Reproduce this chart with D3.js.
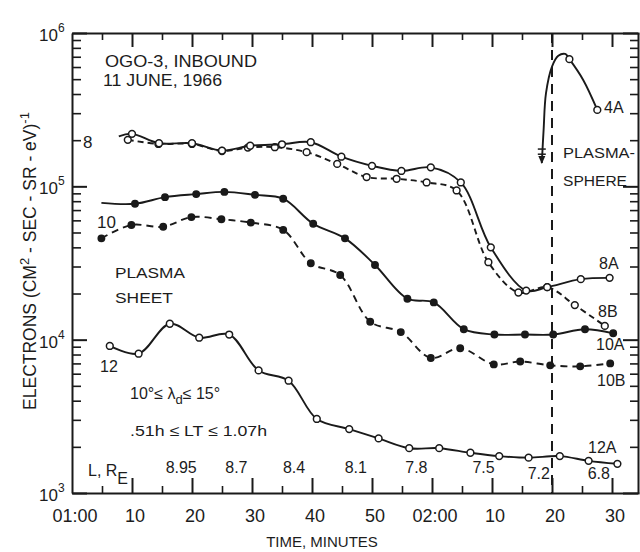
<!DOCTYPE html>
<html><head><meta charset="utf-8">
<script src="https://cdn.jsdelivr.net/npm/d3@7"></script>
<style>
html,body{margin:0;padding:0;background:#fff;}
svg text{font-family:"Liberation Sans",Arial,sans-serif;fill:#1c1c1c;}
</style></head>
<body><svg id="c" width="640" height="552"></svg>
<script>
// ---- data (minutes after 01:00, electrons (cm^2-sec-sr-eV)^-1) ----
const xTickValues = [0,10,20,30,40,50,60,70,80,90];
const xTickLabels = ["01:00","10","20","30","40","50","02:00","10","20","30"];
const yDecades = [1e3,1e4,1e5,1e6];
const yExponents = ["3","4","5","6"];

const minutes8A = [7.8, 10, 14.5, 20, 25, 29.7, 35, 39.8, 44.9, 50, 54.9, 59.8, 64.8, 69.8, 75.7, 79.2, 84.8, 89.6];
const values8A  = [2.12e5, 2.2e5, 1.91e5, 1.91e5, 1.71e5, 1.84e5, 1.88e5, 1.94e5, 1.56e5, 1.36e5, 1.26e5, 1.33e5, 1.06e5, 4.0e4, 2.09e4, 2.2e4, 2.48e4, 2.53e4];
const marks8A   = [0,1,1,1,1,1,1,1,1,1,1,1,1,1,1,1,1,1];

const minutes8B = [9.3, 14.4, 20, 25, 29.3, 33.8, 39.1, 44.2, 49.1, 54.1, 59.1, 64.1, 69.4, 74.4, 79.2, 83.8, 88.8];
const values8B  = [2.01e5, 1.89e5, 1.89e5, 1.70e5, 1.79e5, 1.80e5, 1.67e5, 1.40e5, 1.15e5, 1.12e5, 1.06e5, 9.4e4, 3.2e4, 2.03e4, 2.2e4, 1.68e4, 1.23e4];

const minutes10A = [4.9, 10.5, 15.5, 20.7, 25.4, 30.5, 35.2, 40.2, 45.5, 50.5, 55.9, 60.3, 65.3, 70.4, 75.5, 80.2, 85.5, 90.2];
const values10A  = [7.8e4, 7.7e4, 8.5e4, 8.9e4, 9.2e4, 8.8e4, 8.3e4, 5.7e4, 4.58e4, 3.07e4, 1.85e4, 1.75e4, 1.17e4, 1.08e4, 1.08e4, 1.08e4, 1.17e4, 1.10e4];
const marks10A   = [0,1,1,1,1,1,1,1,1,1,1,1,1,1,1,1,1,1];

const minutes10B = [4.9, 9.9, 15.2, 19.9, 24.9, 29.8, 35.2, 39.8, 44.7, 49.7, 54.8, 59.8, 64.7, 70.3, 74.7, 79.7, 84.7, 89.7];
const values10B  = [4.58e4, 5.6e4, 5.45e4, 6.3e4, 6.1e4, 5.8e4, 5.2e4, 3.15e4, 2.64e4, 1.31e4, 1.12e4, 7.6e3, 8.8e3, 6.9e3, 7.2e3, 6.8e3, 6.7e3, 7.0e3];

const minutes12A = [6.3, 11.1, 16.3, 21.2, 26.2, 31.1, 36.1, 40.8, 46.2, 51.1, 56.2, 61.2, 66.4, 71.2, 76.1, 81.3, 86.1, 90.9];
const values12A  = [9.1e3, 8.1e3, 1.27e4, 1.03e4, 1.08e4, 6.3e3, 5.4e3, 3.04e3, 2.61e3, 2.27e3, 1.96e3, 1.96e3, 1.83e3, 1.74e3, 1.70e3, 1.74e3, 1.62e3, 1.55e3];

const minutes4A = [78.3, 78.6, 79.0, 80.0, 81.05, 82.2, 82.9, 85.2, 87.55];
const values4A  = [1.42e5, 2.33e5, 4.05e5, 6.04e5, 7.1e5, 7.3e5, 6.75e5, 4.94e5, 3.15e5];
const marks4A   = [0,0,0,0,0,0,1,0,1];

const plasmapauseMinute = 80;
const lShellMinutes = [18.2, 27.4, 37, 47.3, 57.4, 68.6, 77.8, 87.8];
const lShellLabels  = ["8.95","8.7","8.4","8.1","7.8","7.5","7.2","6.8"];

// ---- scales ----
const svg = d3.select("#c");
const x = d3.scaleLinear().domain([0, 94.5]).range([72, 639]);
const y = d3.scaleLog().domain([1e3, 1e6]).range([493, 33]);
const ink = "#1a1a1a";

// ---- axes ----
const minorX = d3.range(5, 95, 10);
const minorY = [];
yDecades.slice(0,3).forEach(d => { for (let k=2;k<=9;k++) minorY.push(d*k); });

function styleAxis(g, w){ g.selectAll("path,line").attr("stroke", ink).attr("stroke-width", w); g.selectAll("text").remove(); }

svg.append("g").attr("transform","translate(0,493)")
  .call(d3.axisTop(x).tickValues(xTickValues.slice(1)).tickSizeInner(15).tickSizeOuter(0)).call(g=>styleAxis(g,2));
svg.append("g").attr("transform","translate(0,493)")
  .call(d3.axisTop(x).tickValues(minorX).tickSizeInner(7).tickSizeOuter(0)).call(g=>{styleAxis(g,1.6);g.select(".domain").remove();});
svg.append("g").attr("transform","translate(0,33)")
  .call(d3.axisBottom(x).tickValues(xTickValues.slice(1)).tickSizeInner(14).tickSizeOuter(0)).call(g=>styleAxis(g,2));
svg.append("g").attr("transform","translate(0,33)")
  .call(d3.axisBottom(x).tickValues(minorX).tickSizeInner(7).tickSizeOuter(0)).call(g=>{styleAxis(g,1.6);g.select(".domain").remove();});

svg.append("g").attr("transform","translate(72,0)")
  .call(d3.axisRight(y).tickValues(yDecades).tickSizeInner(15).tickSizeOuter(0)).call(g=>styleAxis(g,2));
svg.append("g").attr("transform","translate(72,0)")
  .call(d3.axisRight(y).tickValues(minorY).tickSizeInner(9).tickSizeOuter(0)).call(g=>{styleAxis(g,1.6);g.select(".domain").remove();});
svg.append("g").attr("transform","translate(638,0)")
  .call(d3.axisLeft(y).tickValues(yDecades).tickSizeInner(15).tickSizeOuter(0)).call(g=>styleAxis(g,2));
svg.append("g").attr("transform","translate(638,0)")
  .call(d3.axisLeft(y).tickValues(minorY).tickSizeInner(8).tickSizeOuter(0)).call(g=>{styleAxis(g,1.6);g.select(".domain").remove();});

// x tick labels
svg.append("g").selectAll("text").data(xTickValues).join("text")
  .attr("x", d => x(d) + 3).attr("y", 522).attr("text-anchor","middle")
  .attr("font-size", 18).text((d,i) => xTickLabels[i]);
// y tick labels
const yl = svg.append("g").selectAll("text").data(yDecades).join("text")
  .attr("x", 39).attr("y", d => y(d) + 8).attr("font-size", 17);
yl.append("tspan").text("10");
yl.append("tspan").attr("dy", -9).attr("font-size", 12).text((d,i)=>yExponents[i]);

// axis titles
svg.append("text").attr("x", 322).attr("y", 547).attr("text-anchor","middle").attr("font-size", 15).text("TIME, MINUTES");
const yt = svg.append("text").attr("transform","translate(36,261) rotate(-90)").attr("text-anchor","middle").attr("font-size", 17.5);
yt.append("tspan").text("ELECTRONS (CM");
yt.append("tspan").attr("dy",-7).attr("font-size",13).text("2");
yt.append("tspan").attr("dy",7).text(" - SEC - SR - eV)");
yt.append("tspan").attr("dy",-7).attr("font-size",13).text("-1");

// ---- plasmapause dashed line ----
svg.append("line").attr("x1", x(plasmapauseMinute)).attr("x2", x(plasmapauseMinute))
  .attr("y1", y(1e6)).attr("y2", y(1e3)).attr("stroke", ink).attr("stroke-width", 2).attr("stroke-dasharray","10,7");

// ---- series ----
const line = d3.line().x(d=>x(d[0])).y(d=>y(d[1])).curve(d3.curveCatmullRom.alpha(0.5));
function series(ms, vs, dash, open, marks){
  const pts = ms.map((m,i)=>[m, vs[i]]);
  svg.append("path").datum(pts).attr("d", line).attr("fill","none").attr("stroke", ink)
    .attr("stroke-width", 1.9).attr("stroke-dasharray", dash || null);
  const mk = pts.filter((p,i)=> !marks || marks[i]);
  svg.append("g").selectAll("circle").data(mk).join("circle")
    .attr("cx", d=>x(d[0])).attr("cy", d=>y(d[1])).attr("r", open ? 3.4 : 3.2)
    .attr("fill", open ? "#fff" : ink).attr("stroke", ink).attr("stroke-width", 1.5);
}
series(minutes8B, values8B, "6,4", true);
series(minutes8A, values8A, null, true, marks8A);
series(minutes10B, values10B, "7,5", false);
series(minutes10A, values10A, null, false, marks10A);
series(minutes12A, values12A, null, true);
series(minutes4A, values4A, null, true, marks4A);

// arrow and error mark at bottom of 4A
const ax = x(minutes4A[0]), ay = y(values4A[0]);
svg.append("path").attr("d", `M${ax-3.5},${ay-7}L${ax},${ay+1}L${ax+3.5},${ay-7}Z`).attr("fill", ink);
[1.62e5, 1.75e5].forEach(v => svg.append("line").attr("x1", ax-4).attr("x2", ax+4)
  .attr("y1", y(v)).attr("y2", y(v)).attr("stroke", ink).attr("stroke-width", 1.5));

// ---- annotations ----
function label(tx, ty, s, fs, opts){
  const t = svg.append("text").attr("x", tx).attr("y", ty).attr("font-size", fs || 15).text(s);
  if (opts && opts.len) t.attr("textLength", opts.len).attr("lengthAdjust","spacingAndGlyphs");
  return t;
}
label(105, 67, "OGO-3, INBOUND", 17, {len:152});
label(103, 86, "11 JUNE, 1966", 17, {len:119});
label(83, 148, "8", 17);
label(97, 228, "10", 17);
label(115, 278, "PLASMA", 15, {len:70});
label(115, 303, "SHEET", 15, {len:58});
label(100, 372, "12", 16);
const t1 = svg.append("text").attr("x", 130).attr("y", 399).attr("font-size", 16);
t1.append("tspan").text("10°≤ λ");
t1.append("tspan").attr("dy", 5).attr("font-size", 13).text("d");
t1.append("tspan").attr("dy", -5).text("≤ 15°");
label(130, 436, ".51h ≤ LT ≤ 1.07h", 15, {len:137});
const t2 = svg.append("text").attr("x", 88).attr("y", 476).attr("font-size", 16);
t2.append("tspan").text("L, R");
t2.append("tspan").attr("dy", 8).text("E");
svg.append("g").selectAll("text").data(lShellMinutes).join("text")
  .attr("x", d=>x(d)).attr("y", (d,i)=> i>=6 ? 479 : 473).attr("text-anchor","middle").attr("font-size", 16)
  .text((d,i)=>lShellLabels[i]);
label(604, 113, "4A", 16);
label(563, 158, "PLASMA-", 15, {len:72});
label(563, 186, "SPHERE", 15, {len:64});
label(599, 269, "8A", 16);
label(598, 317, "8B", 16);
label(596, 350, "10A", 16);
label(597, 386, "10B", 16);
label(588, 453, "12A", 16);
</script></body></html>
